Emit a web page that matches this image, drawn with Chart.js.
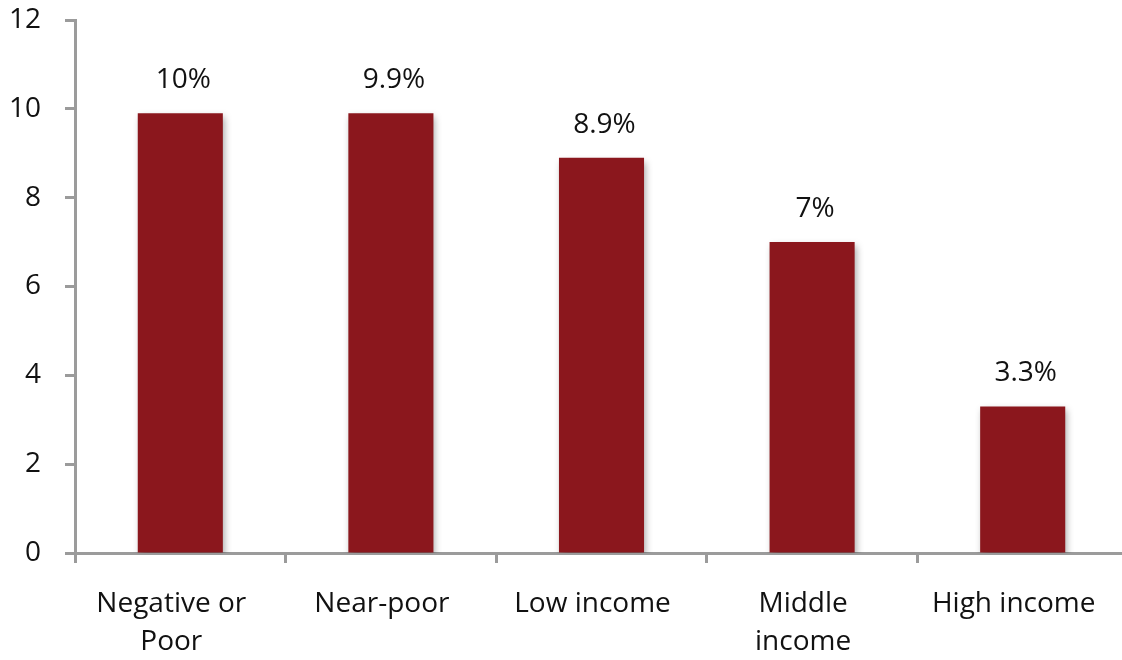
<!DOCTYPE html>
<html lang="en">
<head>
    <meta charset="UTF-8">
    <title>Income group bar chart</title>
    <script src="https://cdn.jsdelivr.net/npm/chart.js"></script>
    <style>
        html, body {
            margin: 0;
            padding: 0;
            background: #fff;
            overflow: hidden;
        }
        .chart-box {
            width: 1128px;
            height: 660px;
        }
    </style>
</head>
<body>
    <div class="chart-box">
        <canvas id="myChart"></canvas>
    </div>

    <script>
        const categories = [['Negative or', 'Poor'], 'Near-poor', 'Low income', ['Middle', 'income'], 'High income'];
        const values = [9.9, 9.9, 8.9, 7.0, 3.3];
        const valueLabels = ['10%', '9.9%', '8.9%', '7%', '3.3%'];
        const yTicks = [0, 2, 4, 6, 8, 10, 12];

        const fontFamily = '"Open Sans", "Noto Sans", sans-serif';
        const axisGray = '#9b9b9b';

        // soft shadow behind bars
        const barShadow = {
            id: 'barShadow',
            beforeDatasetDraw(chart) {
                const ctx = chart.ctx;
                ctx.save();
                ctx.shadowColor = 'rgba(0, 0, 0, 0.35)';
                ctx.shadowBlur = 7;
                ctx.shadowOffsetX = 2;
                ctx.shadowOffsetY = 4;
            },
            afterDatasetDraw(chart) {
                chart.ctx.restore();
            }
        };

        // percentage labels above bars
        const topLabels = {
            id: 'topLabels',
            afterDatasetsDraw(chart) {
                const ctx = chart.ctx;
                const meta = chart.getDatasetMeta(0);
                ctx.save();
                ctx.font = '28px ' + fontFamily;
                ctx.fillStyle = '#111';
                ctx.textAlign = 'center';
                ctx.textBaseline = 'middle';
                meta.data.forEach((bar, i) => {
                    ctx.fillText(valueLabels[i], bar.x + 3, bar.y - 33);
                });
                ctx.restore();
            }
        };

        const ctx = document.getElementById('myChart').getContext('2d');
        new Chart(ctx, {
            type: 'bar',
            data: {
                labels: categories,
                datasets: [{
                    data: values,
                    backgroundColor: '#8b171d',
                    borderWidth: 0,
                    categoryPercentage: 1,
                    barPercentage: 0.404
                }]
            },
            options: {
                responsive: true,
                maintainAspectRatio: false,
                animation: false,
                layout: { padding: { top: 20, right: 0, bottom: 0, left: 0 } },
                plugins: {
                    legend: { display: false },
                    tooltip: { enabled: false }
                },
                scales: {
                    x: {
                        grid: {
                            display: true,
                            offset: true,
                            drawOnChartArea: false,
                            tickLength: 10,
                            tickWidth: 3,
                            tickColor: axisGray
                        },
                        border: { color: axisGray, width: 3 },
                        ticks: {
                            color: '#111',
                            padding: 22,
                            labelOffset: -9,
                            maxRotation: 0,
                            autoSkip: false,
                            font: { family: fontFamily, size: 28, lineHeight: 1.36 }
                        },
                        afterFit(scale) {
                            scale.height = 107;
                            scale.paddingLeft = 0;
                            scale.paddingRight = 0;
                        }
                    },
                    y: {
                        min: 0,
                        max: 12,
                        afterBuildTicks(scale) {
                            scale.ticks = yTicks.map(v => ({ value: v }));
                        },
                        grid: {
                            drawOnChartArea: false,
                            tickLength: 10,
                            tickWidth: 3,
                            tickColor: axisGray
                        },
                        border: { color: axisGray, width: 3 },
                        ticks: {
                            color: '#111',
                            padding: 24,
                            font: { family: fontFamily, size: 28 }
                        },
                        afterFit(scale) {
                            scale.width = 75;
                            scale.paddingTop = 0;
                            scale.paddingBottom = 0;
                        }
                    }
                }
            },
            plugins: [barShadow, topLabels]
        });
    </script>
</body>
</html>
